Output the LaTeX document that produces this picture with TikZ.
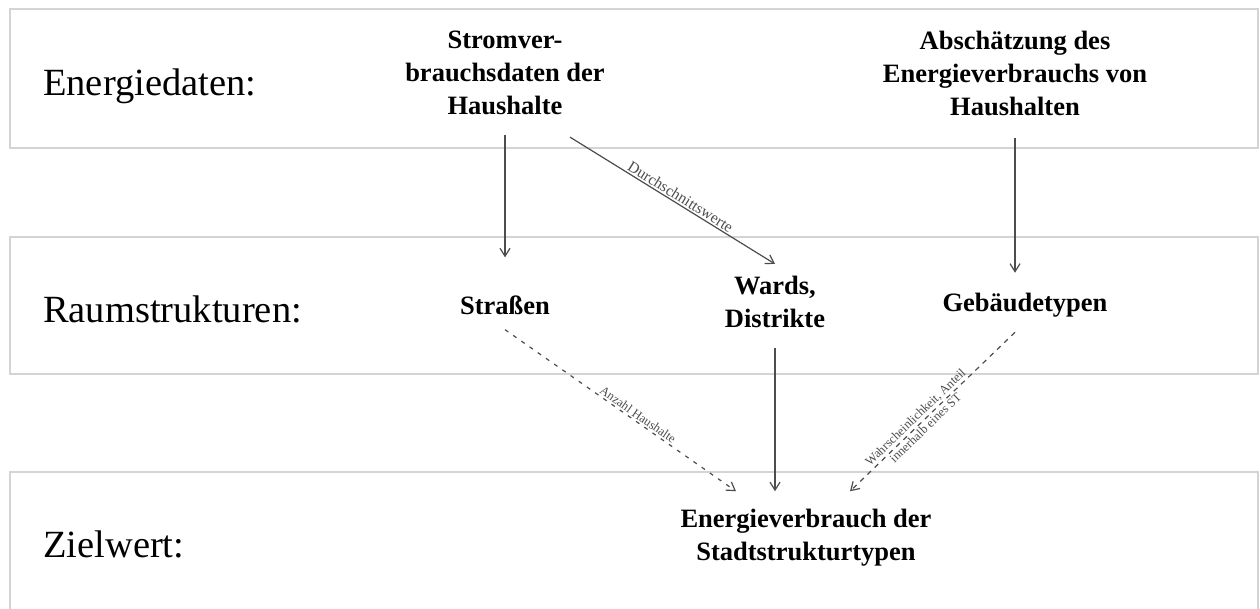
\documentclass[tikz,border=0pt]{standalone}
\usepackage{fontspec}
\setmainfont{Liberation Serif}
\usetikzlibrary{arrows.meta}
\definecolor{bandgray}{HTML}{D4D4D4}
\definecolor{linkgray}{HTML}{4D4D4D}
\tikzset{band/.style = {draw=bandgray, line width=2pt}}
\tikzset{rowlabel/.style = {anchor=base west, inner sep=0pt, font=\fontsize{38.5}{40}\selectfont}}
\tikzset{item/.style = {align=center, inner sep=0pt, font=\fontsize{26.5}{33}\selectfont\bfseries}}
\tikzset{link/.style = {color=linkgray, line width=1.2pt, -{Straight Barb[length=8pt,width=10pt]}}}
\tikzset{hint/.style = {text=linkgray, inner sep=1.5pt, sloped}}

\begin{document}
\begin{tikzpicture}[x=1pt, y=-1pt]
          \clip (0,0) rectangle (1260,608);
          \fill[white] (0,0) rectangle (1260,608);

          \draw[band] (10,9) rectangle (1258,148);
          \draw[band] (10,237) rectangle (1258,374);
          \draw[band] (10,472) rectangle (1258,620);

          \node[rowlabel] (energie) at (43,95) {Energiedaten:};
          \node[rowlabel] (raum) at (43,322) {Raumstrukturen:};
          \node[rowlabel] (zielwert) at (43,557) {Zielwert:};

          \node[item] (strom) at (505,73) {Stromver-\\brauchsdaten der\\Haushalte};
          \node[item] (schaetz) at (1015,73) {Abschätzung des\\Energieverbrauchs von\\Haushalten};
          \node[item] (strassen) at (505,305) {Straßen};
          \node[item] (wards) at (775,302) {Wards,\\Distrikte};
          \node[item] (geb) at (1025,305) {Gebäudetypen};
          \node[item] (ziel) at (806,538) {Energieverbrauch der\\Stadtstrukturtypen};

          \path[link] (strom) edge[shorten <=20pt, shorten >=38pt] (strassen);
          \path[link] ([xshift=65pt,yshift=-22pt]strom.south) edge
            node[hint, above, pos=.52, font=\fontsize{15.5}{15.5}\selectfont] {Durchschnittswerte} ([yshift=12pt]wards.north);
          \path[link] (schaetz.south) edge[shorten <=22pt, shorten >=20pt] (schaetz.south |- geb.north);
          \path[link] (wards.south) edge[shorten <=20pt, shorten >=18pt] (wards.south |- ziel.north);
          \path[link] ([yshift=-15pt]strassen.south) edge[dash pattern=on 4pt off 6pt]
            node[hint, above, pos=.56, font=\fontsize{12.5}{12.5}\selectfont] {Anzahl Haushalte} ([xshift=-70pt,yshift=18pt]ziel.north);
          \path[link] ([xshift=-10pt,yshift=-15pt]geb.south) edge[dash pattern=on 5pt off 5pt]
            node[hint, above, pos=.57, font=\fontsize{12.5}{12.5}\selectfont] {Wahrscheinlichkeit, Anteil}
            node[hint, below, pos=.57, font=\fontsize{12.5}{12.5}\selectfont] {innerhalb eines ST} ([xshift=44pt,yshift=18pt]ziel.north);
        \end{tikzpicture}
\end{document}
